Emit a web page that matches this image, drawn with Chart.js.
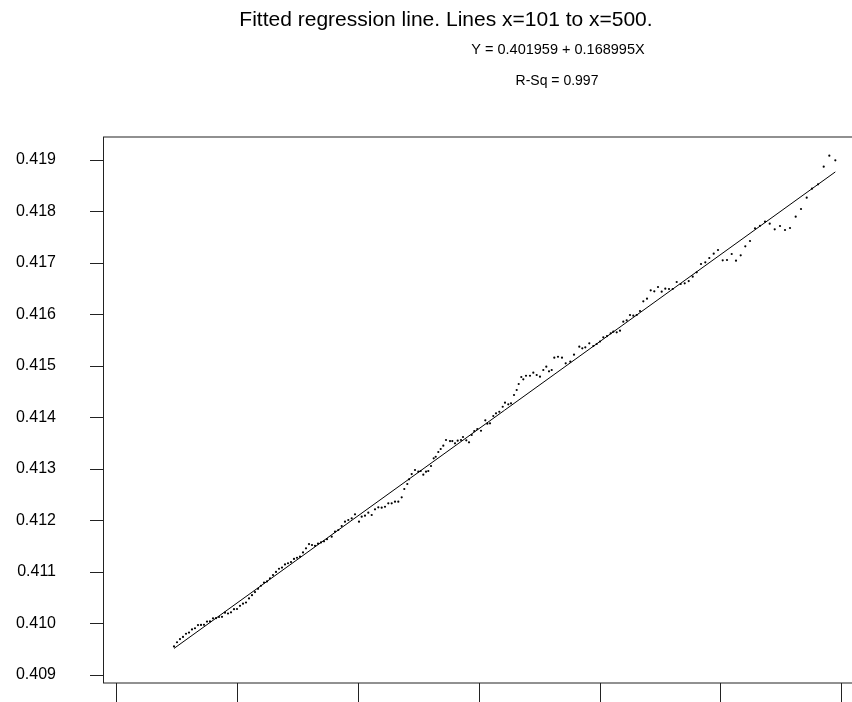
<!DOCTYPE html>
<html>
<head>
<meta charset="utf-8">
<script src="https://cdn.jsdelivr.net/npm/chart.js@4.4.1/dist/chart.umd.min.js"></script>
<style>
  html, body { margin: 0; padding: 0; background: #fff; overflow: hidden; }
  #wrap { position: absolute; left: 0; top: 0; width: 880px; height: 702px; }
</style>
</head>
<body>
<div id="wrap"><canvas id="fit" width="880" height="702"></canvas></div>
<script>
/*******************
 * DATA
 ******************/

const titleText = 'Fitted regression line. Lines x=101 to x=500.';
const equationText = 'Y = 0.401959 + 0.168995X';
const rsqText = 'R-Sq = 0.997';

// regression coefficients
const intercept = 0.401959;
const slope = 0.168995;

const xTicks = [0.04, 0.05, 0.06, 0.07, 0.08, 0.09, 0.10];
const yTicks = [0.409, 0.410, 0.411, 0.412, 0.413, 0.414, 0.415, 0.416, 0.417, 0.418, 0.419];

const xVals = [
  0.044720, 0.044968, 0.045216, 0.045465, 0.045713, 0.045962, 0.046210, 0.046458, 0.046707, 0.046955,
  0.047204, 0.047452, 0.047700, 0.047949, 0.048197, 0.048446, 0.048694, 0.048942, 0.049191, 0.049439,
  0.049688, 0.049936, 0.050184, 0.050433, 0.050681, 0.050930, 0.051178, 0.051426, 0.051675, 0.051923,
  0.052172, 0.052420, 0.052668, 0.052917, 0.053165, 0.053414, 0.053662, 0.053910, 0.054159, 0.054407,
  0.054656, 0.054904, 0.055152, 0.055401, 0.055649, 0.055898, 0.056146, 0.056394, 0.056643, 0.056891,
  0.057140, 0.057388,
  0.057777, 0.058050, 0.058324, 0.058605, 0.058878, 0.059152, 0.059433, 0.059706, 0.060038, 0.060261,
  0.060534, 0.060808, 0.061089, 0.061362, 0.061636, 0.061917, 0.062190, 0.062464, 0.062745, 0.063018,
  0.063292, 0.063573, 0.063788, 0.064037, 0.064178, 0.064401, 0.064674, 0.064948, 0.065146, 0.065362,
  0.065585, 0.065776, 0.065999, 0.066223, 0.066388, 0.066604, 0.066802, 0.067018, 0.067241, 0.067572,
  0.067763, 0.067986, 0.068210, 0.068483, 0.068649, 0.068922, 0.069146, 0.069369, 0.069584, 0.069833,
  0.070139, 0.070495, 0.070661, 0.070884, 0.071158, 0.071381, 0.071654, 0.071936, 0.072126, 0.072400,
  0.072623, 0.072872, 0.073095, 0.073261, 0.073476, 0.073642, 0.073865, 0.074196, 0.074470, 0.074751,
  0.075024, 0.075298, 0.075546, 0.075770, 0.075993, 0.076208, 0.076515, 0.076846, 0.077152, 0.077533,
  0.077840, 0.078278, 0.078527, 0.078775, 0.079106, 0.079438, 0.079719, 0.079992, 0.080266, 0.080572,
  0.080878, 0.081094, 0.081375, 0.081648, 0.081922, 0.082203, 0.082476, 0.082750, 0.083031, 0.083304,
  0.083578, 0.083884, 0.084190, 0.084488, 0.084795, 0.085101, 0.085399, 0.085706, 0.086012, 0.086343,
  0.086674, 0.087006, 0.087337, 0.087668, 0.087999, 0.088355, 0.088711, 0.089042, 0.089407, 0.089763,
  0.090152, 0.090508, 0.090897, 0.091253, 0.091642, 0.092023, 0.092412, 0.092826, 0.093240, 0.093654,
  0.094044, 0.094458, 0.094896, 0.095310, 0.095724, 0.096196, 0.096635, 0.097107, 0.097546, 0.098043,
  0.098515, 0.098980, 0.099477
];

const yVals = [
  0.409555, 0.409636, 0.409698, 0.409740, 0.409801, 0.409824, 0.409885, 0.409908, 0.409969, 0.409972,
  0.409975, 0.410037, 0.410040, 0.410101, 0.410104, 0.410127, 0.410130, 0.410211, 0.410195, 0.410217,
  0.410279, 0.410282, 0.410343, 0.410385, 0.410408, 0.410488, 0.410550, 0.410611, 0.410673, 0.410734,
  0.410795, 0.410818, 0.410879, 0.410941, 0.411002, 0.411064, 0.411086, 0.411148, 0.411170, 0.411193,
  0.411254, 0.411277, 0.411299, 0.411380, 0.411461, 0.411542, 0.411525, 0.411509, 0.411551, 0.411574,
  0.411596, 0.411638,
  0.411686, 0.411783, 0.411816, 0.411894, 0.411977, 0.412010, 0.412043, 0.412121, 0.411977, 0.412074,
  0.412094, 0.412152, 0.412107, 0.412218, 0.412257, 0.412249, 0.412268, 0.412334, 0.412334, 0.412366,
  0.412366, 0.412451, 0.412612, 0.412709, 0.412801, 0.412903, 0.412981, 0.412948, 0.412962, 0.412890,
  0.412948, 0.412962, 0.413059, 0.413208, 0.413239, 0.413331, 0.413389, 0.413453, 0.413564, 0.413544,
  0.413544, 0.413500, 0.413550, 0.413564, 0.413622, 0.413558, 0.413519, 0.413661, 0.413738, 0.413777,
  0.413744, 0.413946, 0.413880, 0.413888, 0.414030, 0.414082, 0.414113, 0.414210, 0.414288, 0.414257,
  0.414276, 0.414438, 0.414535, 0.414651, 0.414787, 0.414742, 0.414812, 0.414812, 0.414871, 0.414826,
  0.414793, 0.414923, 0.414987, 0.414898, 0.414923, 0.415162, 0.415181, 0.415162, 0.415053, 0.415084,
  0.415220, 0.415376, 0.415345, 0.415364, 0.415442, 0.415389, 0.415428, 0.415477, 0.415558, 0.415583,
  0.415636, 0.415667, 0.415655, 0.415686, 0.415861, 0.415888, 0.415991, 0.415978, 0.415991, 0.416069,
  0.416257, 0.416308, 0.416471, 0.416451, 0.416535, 0.416444, 0.416502, 0.416496, 0.416496, 0.416632,
  0.416593, 0.416607, 0.416651, 0.416735, 0.416820, 0.416982, 0.417015, 0.417098, 0.417182, 0.417254,
  0.417053, 0.417059, 0.417176, 0.417046, 0.417151, 0.417325, 0.417428, 0.417675, 0.417725, 0.417803,
  0.417764, 0.417656, 0.417720, 0.417642, 0.417681, 0.417900, 0.418050, 0.418269, 0.418444, 0.418529,
  0.418871, 0.419085, 0.418995
];

/*******************
 * CHART - HEADER TEXT AND PLOT FRAME
 ******************/

const FONT = 'Arial, "Liberation Sans", sans-serif';

const frameAndTitles = {
  id: 'frameAndTitles',
  afterDraw(chart) {
    const ctx = chart.ctx;
    const area = chart.chartArea;
    ctx.save();

    // box round the plotting area (right side runs off the page)
    ctx.strokeStyle = '#222';
    ctx.lineWidth = 1;
    ctx.strokeRect(area.left + 0.5, area.top, area.right - area.left, area.bottom - area.top);

    ctx.fillStyle = '#000';
    ctx.textBaseline = 'middle';
    ctx.textAlign = 'center';
    ctx.font = '21px ' + FONT;
    ctx.fillText(titleText, 446, 20);
    ctx.font = '14.5px ' + FONT;
    ctx.fillText(equationText, 558, 50);
    ctx.font = '14px ' + FONT;
    ctx.fillText(rsqText, 557, 81);

    ctx.restore();
  }
};

/*******************
 * CHART - BUILD
 ******************/

const points = xVals.map((x, i) => ({ x: x, y: yVals[i] }));
const xLo = Math.min(...xVals);
const xHi = Math.max(...xVals);
const fitLine = [xLo, xHi].map(x => ({ x: x, y: intercept + slope * x }));

const ctx = document.getElementById('fit');
new Chart(ctx, {
  type: 'scatter',
  data: {
    datasets: [
      {
        data: points,
        pointRadius: 1.1,
        pointHoverRadius: 1.1,
        pointBackgroundColor: '#000',
        pointBorderWidth: 0,
        order: 2
      },
      {
        type: 'line',
        data: fitLine,
        showLine: true,
        borderColor: '#000',
        borderWidth: 1,
        pointRadius: 0,
        fill: false,
        order: 1
      }
    ]
  },
  options: {
    responsive: false,
    animation: false,
    devicePixelRatio: 1,
    layout: { padding: { top: 137, right: 20, bottom: 0, left: 0 } },
    plugins: {
      legend: { display: false },
      tooltip: { enabled: false },
      title: { display: false }
    },
    scales: {
      x: {
        type: 'linear',
        min: 0.038841,
        max: 0.10152,
        afterBuildTicks: scale => { scale.ticks = xTicks.map(v => ({ value: v })); },
        afterFit: scale => { scale.height = 19; },
        ticks: { display: false },
        border: { display: false },
        grid: {
          drawOnChartArea: false,
          drawTicks: true,
          tickLength: 19,
          color: '#222',
          lineWidth: 1
        }
      },
      y: {
        type: 'linear',
        min: 0.408845,
        max: 0.419448,
        afterBuildTicks: scale => { scale.ticks = yTicks.map(v => ({ value: v })); },
        afterFit: scale => {
          scale.width = 103;
          // label padding should not push the plot area in from top and bottom
          scale.paddingTop = 0;
          scale.paddingBottom = 0;
        },
        ticks: {
          padding: 34,
          color: '#000',
          font: { family: FONT, size: 16 },
          callback: v => Number(v).toFixed(3)
        },
        border: { display: false },
        grid: {
          drawOnChartArea: false,
          drawTicks: true,
          tickLength: 13,
          color: '#222',
          lineWidth: 1
        }
      }
    }
  },
  plugins: [frameAndTitles]
});
</script>
</body>
</html>
